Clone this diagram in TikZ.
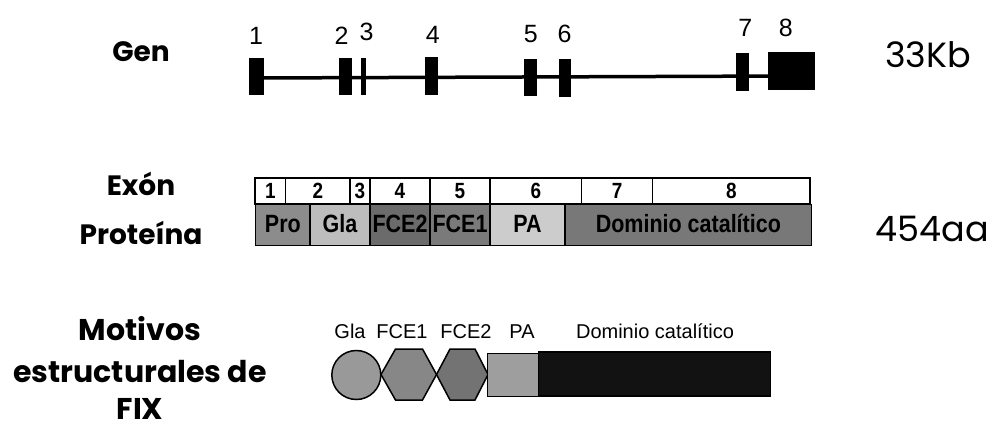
\documentclass[tikz,border=0pt]{standalone}
\usepackage{fontspec}
\setmainfont{Liberation Sans}
\newfontfamily\handfont{Poppins}
\newcommand{\narrowtext}[1]{\scalebox{0.86}[1]{#1}}
\begin{document}
\begin{tikzpicture}[x=1pt,y=-1pt,
  exonbox/.style={fill=black, draw=none, inner sep=0pt},
  intron/.style={line width=3.5pt},
  genenum/.style={font=\fontsize{25}{25}\selectfont, inner sep=0pt, anchor=base},
  cell/.style={draw=black, line width=1.4pt, fill=white, inner sep=0pt,
    minimum height=26pt},
  celltxt/.style={font=\bfseries\fontsize{22}{22}\selectfont, inner sep=0pt, anchor=base},
  domseg/.style={draw=black, line width=1.4pt, inner sep=0pt, minimum height=41.5pt},
  domtxt/.style={font=\bfseries\fontsize{25}{25}\selectfont, inner sep=0pt, anchor=base},
  rowlabel/.style={font=\handfont\bfseries\fontsize{28}{28}\selectfont, inner sep=0pt, anchor=base},
  biglabel/.style={rowlabel, font=\handfont\bfseries\fontsize{30}{30}\selectfont},
  sizelabel/.style={font=\handfont\fontsize{35}{35}\selectfont, inner sep=0pt, anchor=base},
  motiflabel/.style={font=\fontsize{20}{20}\selectfont, inner sep=0pt, anchor=base},
  motif/.style={draw=black, line width=1.5pt}
]
\useasboundingbox (0,0) rectangle (990,430);

% ---- row labels (left) and sizes (right)
\node[rowlabel] (lgen) at (141,62) {Gen};
\node[rowlabel] (lexon) at (141,196) {Exón};
\node[rowlabel] (lprot) at (141,245) {Proteína};
\node[biglabel] (lmot1) at (140,340) {Motivos};
\node[biglabel] (lmot2) at (140,382) {estructurales de};
\node[biglabel] (lmot3) at (140,419) {FIX};
\node[sizelabel] (kb) at (928,68) {33Kb};
\node[sizelabel] (aa) at (932,242) {454aa};

% ---- gene: introns as a line, exons as black boxes
\coordinate (gstart) at (256,78);
\coordinate (gend) at (790,76);
\draw[intron] (gstart) -- (gend);
\node[exonbox, minimum width=14.5pt, minimum height=37pt] (e1) at (256.3,76.5) {};
\node[exonbox, minimum width=13.5pt, minimum height=37pt] (e2) at (345.5,76.5) {};
\node[exonbox, minimum width=5.7pt, minimum height=37pt] (e3) at (363.6,76.5) {};
\node[exonbox, minimum width=12.3pt, minimum height=38pt] (e4) at (431.5,76) {};
\node[exonbox, minimum width=13pt, minimum height=37.5pt] (e5) at (530,77.7) {};
\node[exonbox, minimum width=12.7pt, minimum height=38pt] (e6) at (565,78) {};
\node[exonbox, minimum width=13pt, minimum height=38pt] (e7) at (742.5,72) {};
\node[exonbox, minimum width=47pt, minimum height=38pt] (e8) at (791.5,71) {};
\node[genenum] (n1) at (256,44.6) {1};
\node[genenum] (n2) at (341.5,44.6) {2};
\node[genenum] (n3) at (366.5,41) {3};
\node[genenum] (n4) at (432.7,44) {4};
\node[genenum] (n5) at (530.8,43) {5};
\node[genenum] (n6) at (564.6,43) {6};
\node[genenum] (n7) at (745.4,37) {7};
\node[genenum] (n8) at (785.8,37) {8};

% ---- exon numbering row
\node[cell, minimum width=30.7pt] (x1) at (270.35,191) {};
\node[cell, minimum width=64.3pt] (x2) at (317.85,191) {};
\node[cell, minimum width=20pt] (x3) at (360,191) {};
\node[cell, minimum width=60pt] (x4) at (400,191) {};
\node[cell, minimum width=60pt] (x5) at (460,191) {};
\node[cell, minimum width=91.7pt] (x6) at (535.85,191) {};
\node[cell, minimum width=71pt] (x7) at (617.2,191) {};
\node[cell, minimum width=157.3pt] (x8) at (731.35,191) {};
\foreach \c/\t in {x1/1,x2/2,x3/3,x4/4,x5/5,x6/6,x7/7,x8/8}
  \node[celltxt] (\c t) at ([yshift=-8pt]\c.center) {\narrowtext{\t}};

% ---- protein domains
\node[domseg, fill=black!45, minimum width=54.3pt] (pro) at (282.85,225) {};
\node[domseg, fill=black!26, minimum width=60pt] (gla) at (340,225) {};
\node[domseg, fill=black!58, minimum width=60pt] (fce2) at (400,225) {};
\node[domseg, fill=black!52, minimum width=60pt] (fce1) at (460,225) {};
\node[domseg, fill=black!20, minimum width=75pt] (pa) at (527.5,225) {};
\node[domseg, fill=black!53, minimum width=246.7pt] (cat) at (688.35,225) {};
\foreach \c/\t in {pro/Pro,gla/Gla,fce2/FCE2,fce1/FCE1,pa/PA,cat/Dominio catalítico}
  \node[domtxt] (\c t) at ([yshift=-8pt]\c.center) {\narrowtext{\t}};

% ---- structural motifs
\node[motiflabel] (mgla) at (350,338) {Gla};
\node[motiflabel] (mfce1) at (402,338) {FCE1};
\node[motiflabel] (mfce2) at (466,338) {FCE2};
\node[motiflabel] (mpa) at (522,338) {PA};
\node[motiflabel] (mcat) at (655,338) {Dominio catalítico};

\node[motif, circle, fill=black!40, minimum size=49pt, inner sep=0pt] (cgla) at (356.3,375) {};
\draw[motif, fill=black!47] (381,374.5) -- (395.5,349) -- (422.5,349) -- (436.5,374.5)
  -- (422.5,400) -- (395.5,400) -- cycle;
\draw[motif, fill=black!55] (436.5,374.5) -- (450,349) -- (475,349) -- (488,374.5)
  -- (475,400) -- (450,400) -- cycle;
\node[motif, fill=black!38, minimum width=50.6pt, minimum height=43.4pt, inner sep=0pt] (spa) at (513,375) {};
\node[motif, fill=black!93, minimum width=232.4pt, minimum height=44pt, inner sep=0pt] (scat) at (654.5,374) {};
\end{tikzpicture}
\end{document}
